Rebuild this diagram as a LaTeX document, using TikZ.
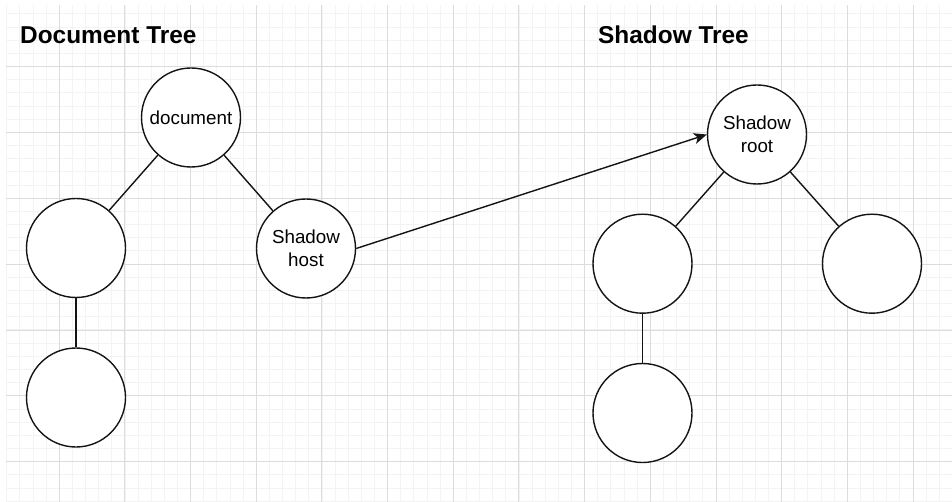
\documentclass[tikz,border=0pt]{standalone}
\usepackage{fontspec}
\setmainfont{Liberation Sans}
\usetikzlibrary{arrows.meta}
\definecolor{gridminor}{RGB}{243,243,243}
\definecolor{gridmajor}{RGB}{220,220,220}
\definecolor{ink}{RGB}{20,20,20}
\tikzset{
  treenode/.style={circle,draw=ink,line width=1.4pt,fill=white,minimum size=99pt,inner sep=0pt,align=center,font=\fontsize{18.8}{23}\selectfont},
  treeedge/.style={draw=ink,line width=1.4pt},
  linkedge/.style={draw=ink,line width=1.4pt,-{Stealth[length=13pt,width=11pt,inset=3.5pt]}},
  titletext/.style={anchor=base west,inner sep=0pt,font=\fontsize{24.4}{29}\selectfont\bfseries},
  minorline/.style={draw=gridminor,line width=1pt},
  majorline/.style={draw=gridmajor,line width=1pt}
}
\begin{document}
\begin{tikzpicture}[x=1pt,y=-1pt]
\useasboundingbox (0,0) rectangle (952,502);
\fill[white] (0,0) rectangle (952,502);
\begin{scope}
\clip (6,6) rectangle (952,502);
\foreach \i in {0,...,72} {
  \draw[minorline] ({6.8+13.134*\i},0) -- ({6.8+13.134*\i},502);
}
\foreach \i in {-1,...,38} {
  \draw[minorline] (0,{13.9+13.17*\i}) -- (952,{13.9+13.17*\i});
}
\foreach \i in {0,...,14} {
  \draw[majorline] ({59.3+65.67*\i},0) -- ({59.3+65.67*\i},502);
}
\foreach \i in {-1,...,7} {
  \draw[majorline] (0,{66.6+65.85*\i}) -- (952,{66.6+65.85*\i});
}
\end{scope}

\node[titletext] (t1) at (20,44) {Document Tree};
\node[titletext] (t2) at (598,44) {Shadow Tree};

\node[treenode] (doc) at (191,117.5) {document};
\node[treenode] (l1) at (76,248) {};
\node[treenode] (l2) at (76,397.5) {};
\node[treenode] (host) at (306,248.5) {Shadow\\host};

\node[treenode] (root) at (757,134.5) {Shadow\\root};
\node[treenode] (r1) at (642.5,263.7) {};
\node[treenode] (r2) at (872,263.7) {};
\node[treenode] (r3) at (642.5,413) {};

\draw[treeedge] (doc) -- (l1);
\draw[treeedge] (doc) -- (host);
\draw[treeedge] (l1) -- (l2);
\draw[treeedge] (root) -- (r1);
\draw[treeedge] (root) -- (r2);
\draw[treeedge] (r1) -- (r3);
\draw[linkedge] (host.east) -- (root.west);
\end{tikzpicture}
\end{document}
